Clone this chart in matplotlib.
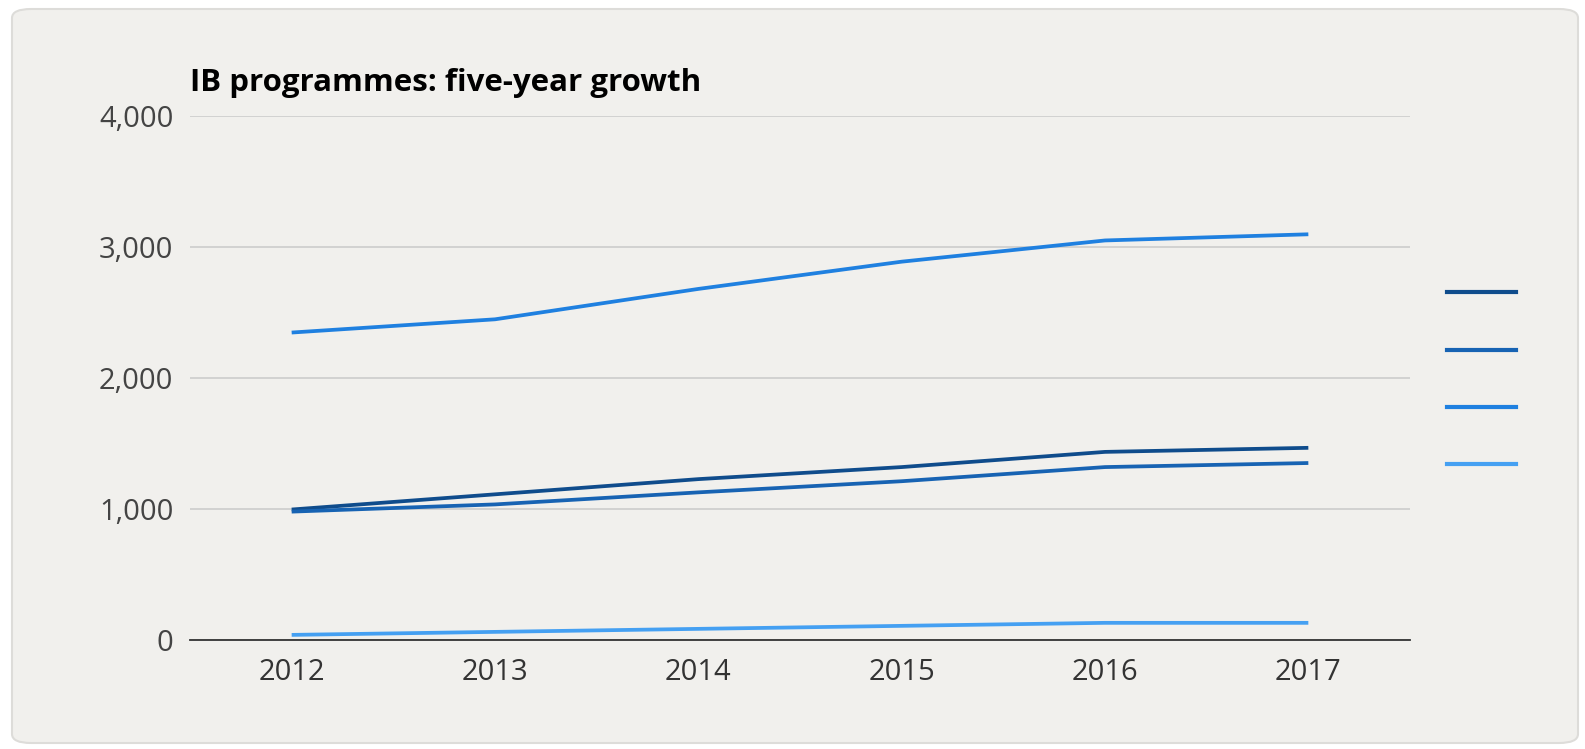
import matplotlib as mpl
import matplotlib.pyplot as plt
from matplotlib.lines import Line2D
from matplotlib.patches import FancyBboxPatch

mpl.rcParams.update({
    "font.family": ["Open Sans", "DejaVu Sans"],
    "axes.spines.right": False,
    "axes.spines.top": False,
    "axes.spines.left": False,
})

years = [2012, 2013, 2014, 2015, 2016, 2017]
series_names = ["Diploma Programme", "Middle Years Programme", "Primary Years Programme", "Career-related Programme"]
dp = [996, 1112, 1228, 1320, 1436, 1467]
myp = [980, 1035, 1127, 1212, 1320, 1351]
pyp = [2347, 2448, 2680, 2888, 3050, 3097]
cp = [39, 62, 85, 108, 131, 131]
values = [dp, myp, pyp, cp]
colors = ["#0f4c8c", "#1763b3", "#1f80e0", "#45a0f2"]
yticks = [0, 1000, 2000, 3000, 4000]

BG = "#f1f0ed"
fig = plt.figure(figsize=(15.85, 7.49), dpi=100, facecolor="white")
fig.patches.append(FancyBboxPatch((12 / 1585, 6 / 749), 1566 / 1585, 734 / 749,
                                  boxstyle="round,pad=0,rounding_size=0.012",
                                  transform=fig.transFigure, facecolor=BG,
                                  edgecolor="#dddcd9", lw=1.5, zorder=-5))

ax = fig.add_axes([190 / 1585, 1 - 640 / 749, 1220 / 1585, 524 / 749])
ax.set_facecolor("none")
for v, c in zip(values, colors):
    ax.plot(years, v, color=c, lw=2.7, solid_capstyle="butt")

ax.set_xlim(2011.5, 2017.5)
ax.set_ylim(0, 4000)
ax.set_yticks(yticks, [f"{t:,}" for t in yticks])
ax.set_xticks(years)
ax.tick_params(length=0, labelsize=21, colors="#444444")
ax.tick_params(axis="y", pad=12)
ax.tick_params(axis="x", pad=13, labelcolor="#333333")
ax.grid(axis="y", color="#cfcfcf", lw=1.3)
ax.set_axisbelow(True)
ax.spines["bottom"].set_color("#333333")
ax.spines["bottom"].set_linewidth(1.3)

fig.text(190 / 1585, 1 - 83 / 749, "IB programmes: five-year growth", fontsize=22.5,
         fontweight="bold", va="center", ha="left", color="black")

handles = [Line2D([], [], color=c, lw=3) for c in colors]
fig.legend(handles, ["", "", "", ""], loc="center left",
           bbox_to_anchor=(1447 / 1585, 1 - 381 / 749), bbox_transform=fig.transFigure,
           frameon=False, fontsize=19, borderpad=0, borderaxespad=0,
           handletextpad=0, handlelength=2.6, labelspacing=1.22)

fig.savefig("out.png", dpi=100, facecolor="white")
